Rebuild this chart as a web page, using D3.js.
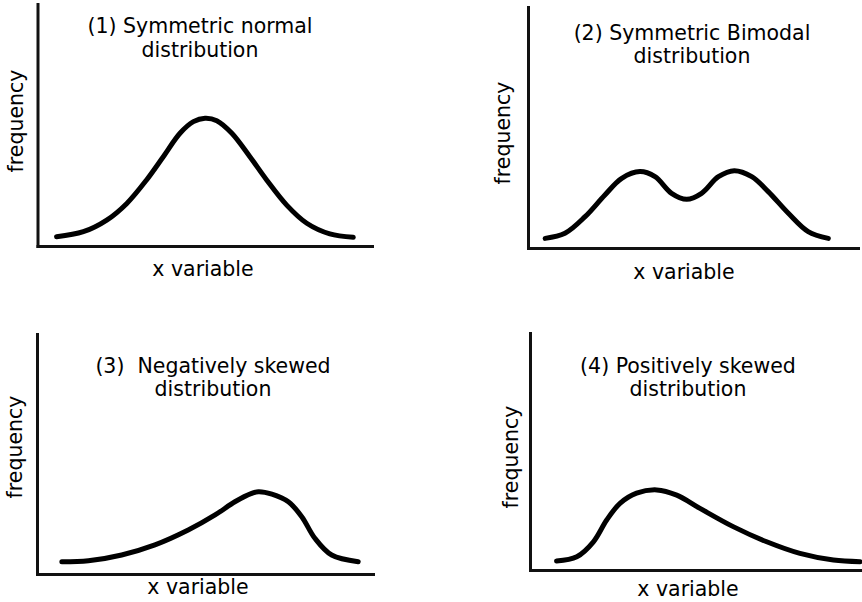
<!DOCTYPE html>
<html>
<head>
<meta charset="utf-8">
<script src="https://cdn.jsdelivr.net/npm/d3@7"></script>
<style>
  html, body { margin: 0; padding: 0; background: #fff; }
  svg { display: block; }
  text { font-family: "DejaVu Sans", Verdana, sans-serif; fill: #000; }
</style>
</head>
<body>
<svg id="chart" width="862" height="602"></svg>
<script>
// ---- data (x variable 0-100 along axis, frequency 0-100 of axis height) ----
const titles = [
  ["(1) Symmetric normal", "distribution"],
  ["(2) Symmetric Bimodal", "distribution"],
  ["(3)  Negatively skewed", "distribution"],
  ["(4) Positively skewed", "distribution"]
];
const xLabel = "x variable";
const yLabel = "frequency";

const normalX = [5.7, 13.7, 20.7, 26.7, 32.6, 37.6, 42.6, 46.6, 50.1, 53.6, 58.1, 63.5, 68.5, 74.5, 80.5, 87.4, 94.4];
const normalY = [3.8, 5.9, 10.7, 17.6, 27.3, 36.9, 46.6, 51.4, 52.8, 51.8, 46.6, 36.9, 27.3, 16.9, 9.4, 5.0, 3.6];

const bimodalX = [5.2, 11.2, 17.3, 23.3, 28.4, 33.9, 38.5, 43.5, 48.1, 52.6, 57.7, 62.5, 67.8, 72.8, 78.9, 84.9, 91.0];
const bimodalY = [4.0, 6.1, 13.0, 22.0, 28.9, 31.7, 29.6, 22.7, 20.2, 22.7, 29.6, 32.1, 29.6, 23.4, 14.4, 6.8, 4.0];

const negSkewX = [7.4, 15.3, 25.2, 35.1, 45.0, 53.0, 58.9, 63.9, 65.9, 69.9, 74.8, 78.8, 82.7, 87.7, 95.6];
const negSkewY = [5.1, 5.5, 7.9, 12.1, 18.3, 24.6, 30.1, 33.6, 34.3, 33.3, 30.1, 23.9, 14.9, 7.9, 5.1];

const posSkewX = [8.0, 14.1, 19.1, 23.1, 27.1, 32.1, 38.2, 44.2, 51.2, 61.2, 71.3, 81.3, 91.4, 99.4];
const posSkewY = [3.8, 5.6, 11.9, 21.1, 28.1, 32.4, 33.8, 31.6, 26.0, 18.3, 11.9, 7.0, 4.2, 3.5];

// ---- layout ----
const panels = [
  { xs: normalX, ys: normalY, left: 37.5, right: 372, top: 4, bottom: 246,
    tx: 200, tb1: 33, tb2: 57, lx: 203, lb: 276, fx: 23, fy: 121 },
  { xs: bimodalX, ys: bimodalY, left: 528, right: 858, top: 7, bottom: 248,
    tx: 692, tb1: 40, tb2: 63, lx: 684, lb: 279, fx: 510, fy: 133 },
  { xs: negSkewX, ys: negSkewY, left: 37, right: 373, top: 334, bottom: 574,
    tx: 213, tb1: 373, tb2: 396, lx: 198, lb: 594, fx: 22, fy: 447 },
  { xs: posSkewX, ys: posSkewY, left: 530, right: 862, top: 333, bottom: 570,
    tx: 688, tb1: 373, tb2: 396, lx: 688, lb: 596, fx: 518, fy: 457 }
];

const FS = 20.5;
const svg = d3.select("#chart");

panels.forEach((p, i) => {
  const x = d3.scaleLinear().domain([0, 100]).range([p.left, p.right]);
  const y = d3.scaleLinear().domain([0, 100]).range([p.bottom, p.top]);
  const g = svg.append("g");

  // axes (lines only)
  const xa = g.append("g").attr("transform", `translate(0,${p.bottom})`)
    .call(d3.axisBottom(x).tickValues([]).tickSizeOuter(0));
  const ya = g.append("g").attr("transform", `translate(${p.left},0)`)
    .call(d3.axisLeft(y).tickValues([]).tickSizeOuter(0));
  [xa, ya].forEach(a => a.select(".domain")
    .attr("stroke", "#111").attr("stroke-width", 3).attr("stroke-linecap", "square"));

  // curve
  const pts = p.xs.map((v, k) => [v, p.ys[k]]);
  g.append("path")
    .datum(pts)
    .attr("fill", "none")
    .attr("stroke", "#000")
    .attr("stroke-width", 5)
    .attr("stroke-linecap", "round")
    .attr("stroke-linejoin", "round")
    .attr("d", d3.line().x(d => x(d[0])).y(d => y(d[1])).curve(d3.curveCatmullRom.alpha(0.5)));

  // title
  g.append("text").attr("x", p.tx).attr("y", p.tb1).attr("text-anchor", "middle")
    .attr("font-size", FS).style("white-space", "pre").text(titles[i][0]);
  g.append("text").attr("x", p.tx).attr("y", p.tb2).attr("text-anchor", "middle")
    .attr("font-size", FS).text(titles[i][1]);

  // x label
  g.append("text").attr("x", p.lx).attr("y", p.lb).attr("text-anchor", "middle")
    .attr("font-size", FS).text(xLabel);

  // y label
  g.append("text").attr("transform", `translate(${p.fx},${p.fy}) rotate(-90)`)
    .attr("text-anchor", "middle").attr("font-size", FS).text(yLabel);
});
</script>
</body>
</html>
